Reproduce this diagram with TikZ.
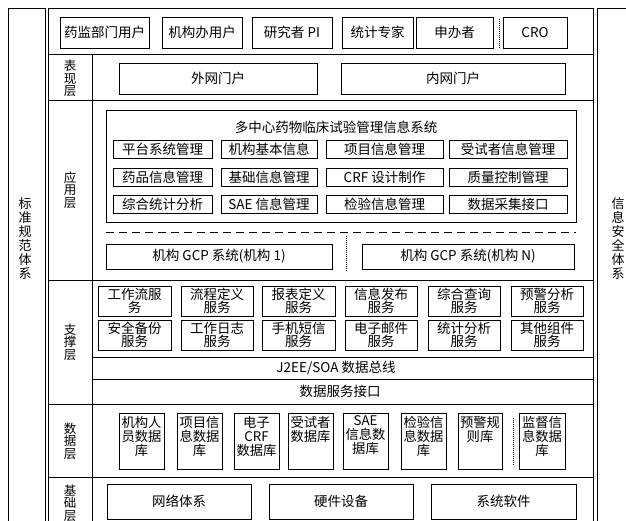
\documentclass[tikz,border=0pt]{standalone}
\usepackage{fontspec}
\setmainfont{Noto Sans CJK SC}
\usetikzlibrary{positioning}

\begin{document}
\begin{tikzpicture}[
    x=1pt, y=-1pt,
    line width=0.8pt,
    box/.style={rectangle,draw,fill=white,inner sep=0pt,align=center,
      font=\fontsize{13.5}{14}\selectfont},
    usrbox/.style={box,minimum height=31pt},
    portal/.style={box,minimum height=31pt},
    modbox/.style={box,minimum height=18pt},
    srvbox/.style={box,minimum width=72pt,minimum height=30pt,
      font=\fontsize{13.5}{13}\selectfont},
    dbbox/.style={box,minimum width=45pt,minimum height=56pt},
    dbtxt/.style={inner sep=0pt,align=center,font=\fontsize{13.3}{14}\selectfont},
    basebox/.style={box,minimum width=144pt,minimum height=35pt},
    layer/.style={inner sep=0pt,align=center,font=\fontsize{12.5}{12.5}\selectfont},
    side/.style={inner sep=0pt,align=center,font=\fontsize{13}{14}\selectfont},
    txt/.style={inner sep=0pt,font=\fontsize{13.5}{14}\selectfont},
    sep/.style={line width=1pt,densely dotted}
  ]
    \useasboundingbox (0,0) rectangle (626,521);
    \clip (0,0) rectangle (626,521);

    % frames
    \draw (8,8) rectangle (45,540);
    \draw (48,8) rectangle (593,540);
    \draw (597,8) rectangle (640,540);
    \draw (48,54) -- (593,54);
    \draw (48,100) -- (593,100);
    \draw (48,280) -- (593,280);
    \draw (92,357) -- (593,357);
    \draw (92,379) -- (593,379);
    \draw (48,404) -- (593,404);
    \draw (48,477) -- (593,477);
    \draw (92,54) -- (92,540);

    \node[side] (bzgf) at (25,238) {标\\准\\规\\范\\体\\系};
    \node[side] (xxaq) at (618,238) {信\\息\\安\\全\\体\\系};

    % users
    \node[usrbox,minimum width=89pt] (yjbm) at (104.5,32.5) {药监部门用户};
    \node[usrbox,minimum width=80pt] (jgb) at (202,32.5) {机构办用户};
    \node[usrbox,minimum width=80pt] (yjz) at (292,32.5) {研究者 PI};
    \node[usrbox,minimum width=71pt] (tjzj) at (377.5,32.5) {统计专家};
    \node[usrbox,minimum width=77pt] (sbz) at (454.5,32.5) {申办者};
    \node[usrbox,minimum width=64pt] (cro) at (535,32.5) {CRO};
    \draw[sep] (499,19) -- (499,48);

    % presentation layer
    \node[layer] (bxc) at (70,78.5) {表\\现\\层};
    \node[portal,minimum width=198pt] (wwmh) at (218,78.5) {外网门户};
    \node[portal,minimum width=224pt] (nwmh) at (453,78.5) {内网门户};

    % application layer
    \node[layer] (yyc) at (70,190) {应\\用\\层};
    \node[box,minimum width=470pt,minimum height=112pt] (sys) at (341,166) {};
    \node[txt] (systitle) at (336,127) {多中心药物临床试验管理信息系统};
    \node[modbox,minimum width=99pt] (ptxt) at (162.5,149.5) {平台系统管理};
    \node[modbox,minimum width=96pt] (jgjb) at (269,149.5) {机构基本信息};
    \node[modbox,minimum width=117pt] (xmxx) at (384.5,149.5) {项目信息管理};
    \node[modbox,minimum width=118pt] (sszxx) at (508,149.5) {受试者信息管理};
    \node[modbox,minimum width=99pt] (ypxx) at (162.5,177) {药品信息管理};
    \node[modbox,minimum width=96pt] (jcxx) at (269,177) {基础信息管理};
    \node[modbox,minimum width=117pt] (crfsj) at (384.5,177) {CRF 设计制作};
    \node[modbox,minimum width=118pt] (zlkz) at (508,177) {质量控制管理};
    \node[modbox,minimum width=99pt] (zhtj) at (162.5,204.5) {综合统计分析};
    \node[modbox,minimum width=96pt] (saexx) at (269,204.5) {SAE 信息管理};
    \node[modbox,minimum width=117pt] (jyxx) at (384.5,204.5) {检验信息管理};
    \node[modbox,minimum width=118pt] (sjcj) at (508,204.5) {数据采集接口};
    \draw[dash pattern=on 8pt off 5pt] (106,232) -- (576,232);
    \node[box,minimum width=226pt,minimum height=25pt] (gcp1) at (219,256.5) {机构 GCP 系统(机构 1)};
    \node[box,minimum width=212pt,minimum height=25pt] (gcpn) at (468,256.5) {机构 GCP 系统(机构 N)};
    \draw[sep] (346,236) -- (346,272);

    % support layer
    \node[layer] (zcc) at (70,342) {支\\撑\\层};
    \node[srvbox,minimum width=73pt] (gzl) at (134.5,301) {工作流服\\务};
    \node[srvbox] (lcdy) at (217,301) {流程定义\\服务};
    \node[srvbox,minimum width=73pt] (bbdy) at (298.5,301) {报表定义\\服务};
    \node[srvbox] (xxfb) at (381,301) {信息发布\\服务};
    \node[srvbox] (zhcx) at (464,301) {综合查询\\服务};
    \node[srvbox] (yjfx) at (547,301) {预警分析\\服务};
    \node[srvbox,minimum width=73pt] (aqbf) at (134.5,335) {安全备份\\服务};
    \node[srvbox] (gzrz) at (217,335) {工作日志\\服务};
    \node[srvbox,minimum width=73pt] (sjdx) at (298.5,335) {手机短信\\服务};
    \node[srvbox] (dzyj) at (381,335) {电子邮件\\服务};
    \node[srvbox] (tjfx) at (464,335) {统计分析\\服务};
    \node[srvbox] (qtzj) at (547,335) {其他组件\\服务};
    \node[txt] (bus) at (336,368) {J2EE/SOA 数据总线};
    \node[txt] (dsi) at (340,391.5) {数据服务接口};

    % data layer
    \node[layer] (sjc) at (70,441) {数\\据\\层};
    \node[dbbox] (db1) at (141.5,441) {};
    \node[dbbox] (db2) at (199.5,441) {};
    \node[dbbox] (db3) at (256.5,441) {};
    \node[dbbox] (db4) at (310.5,441) {};
    \node[dbbox] (db5) at (365.5,441) {};
    \node[dbbox] (db6) at (423.5,441) {};
    \node[dbbox,minimum width=44pt] (db7) at (480,441) {};
    \node[dbbox,minimum width=46pt] (db8) at (542,441) {};
    \node[dbtxt,below=3pt of db1.north] (db1t) {机构人\\员数据\\库};
    \node[dbtxt,below=3pt of db2.north] (db2t) {项目信\\息数据\\库};
    \node[dbtxt,below=3pt of db3.north] (db3t) {电子\\CRF\\数据库};
    \node[dbtxt,below=3pt of db4.north] (db4t) {受试者\\数据库};
    \node[dbtxt,below=3pt of db5.north] (db5t) {SAE\\信息数\\据库};
    \node[dbtxt,below=3pt of db6.north] (db6t) {检验信\\息数据\\库};
    \node[dbtxt,below=3pt of db7.north] (db7t) {预警规\\则库};
    \node[dbtxt,below=3pt of db8.north] (db8t) {监督信\\息数据\\库};
    \draw[sep] (513,418) -- (513,465);

    % base layer
    \node[layer] (jcc) at (70,503) {基\\础\\层};
    \node[basebox] (wltx) at (179,501.5) {网络体系};
    \node[basebox] (yjsb) at (341,501.5) {硬件设备};
    \node[basebox,minimum width=145pt] (xtrj) at (503.5,501.5) {系统软件};
  \end{tikzpicture}
\end{document}
